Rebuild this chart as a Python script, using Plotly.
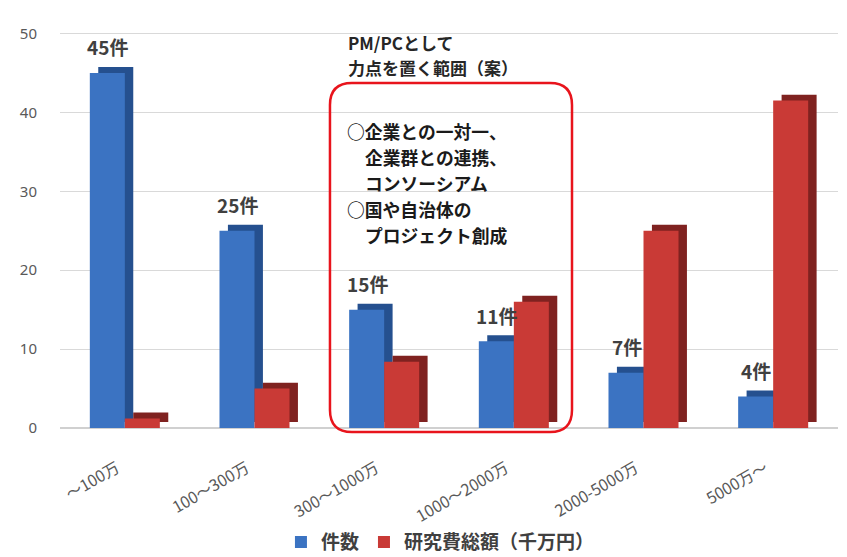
import plotly.graph_objects as go

categories = ["～100万", "100～300万", "300～1000万", "1000～2000万", "2000-5000万", "5000万～"]
counts = [45, 25, 15, 11, 7, 4]
funding = [1.2, 5, 8.4, 16, 25, 41.5]
count_labels = ["45件", "25件", "15件", "11件", "7件", "4件"]
y_ticks = [0, 10, 20, 30, 40, 50]
title_lines = ["PM/PCとして", "力点を置く範囲（案）"]
body_lines = ["○企業との一対一、", "企業群との連携、", "コンソーシアム", "○国や自治体の", "プロジェクト創成"]
body_indent = [False, True, True, False, True]

FONT = "Noto Sans CJK JP"
BLUE = "#3b73c2"
BLUE_SIDE = "#25508f"
RED = "#c93a36"
RED_SIDE = "#7f2220"

W = 0.27        # bar width (category units)
DX = 0.065      # depth shift right
DY = 0.75       # depth shift up (value units)

fig = go.Figure()
fig.add_trace(go.Bar(x=categories, y=counts, base=DY, offset=-W + DX, width=W,
                     marker=dict(color=BLUE_SIDE, line=dict(width=0)),
                     showlegend=False, hoverinfo="skip"))
fig.add_trace(go.Bar(x=categories, y=counts, offset=-W, width=W, name="件数",
                     marker=dict(color=BLUE, line=dict(width=0))))
fig.add_trace(go.Bar(x=categories, y=funding, base=DY, offset=DX, width=W,
                     marker=dict(color=RED_SIDE, line=dict(width=0)),
                     showlegend=False, hoverinfo="skip"))
fig.add_trace(go.Bar(x=categories, y=funding, offset=0, width=W, name="研究費総額（千万円）",
                     marker=dict(color=RED, line=dict(width=0))))

for c, v, t in zip(categories, counts, count_labels):
    fig.add_annotation(x=c, y=v, text=f"<b>{t}</b>", showarrow=False,
                       xshift=-17, yshift=26,
                       font=dict(family=FONT, size=19, color="#404040"))

L, R_, T, B = 60, 9, 13, 129
pw = 847 - L - R_
ph = 557 - T - B


def px2paper(px, py):
    return (px - L) / pw, (557 - B - py) / ph


x0, y0, x1, y1, r = 330, 83, 572, 432, 22
def P(px, py):
    a, b = px2paper(px, py)
    return f"{a:.4f},{b:.4f}"
path = (f"M {P(x0 + r, y0)} L {P(x1 - r, y0)} Q {P(x1, y0)} {P(x1, y0 + r)} "
        f"L {P(x1, y1 - r)} Q {P(x1, y1)} {P(x1 - r, y1)} "
        f"L {P(x0 + r, y1)} Q {P(x0, y1)} {P(x0, y1 - r)} "
        f"L {P(x0, y0 + r)} Q {P(x0, y0)} {P(x0 + r, y0)} Z")
fig.add_shape(type="path", path=path, xref="paper", yref="paper",
              line=dict(color="#e8141c", width=2.5), layer="above")

for i, t in enumerate(title_lines):
    ax, ay = px2paper(346, 42 + 25 * i)
    fig.add_annotation(xref="paper", yref="paper", x=ax, y=ay, xanchor="left", yanchor="middle",
                       showarrow=False, text=f"<b>{t}</b>",
                       font=dict(family=FONT, size=17, color="#262626"))
for i, (t, ind) in enumerate(zip(body_lines, body_indent)):
    ax, ay = px2paper(345 + (18 if ind else 0), 131 + 26 * i)
    fig.add_annotation(xref="paper", yref="paper", x=ax, y=ay, xanchor="left", yanchor="middle",
                       showarrow=False, text=f"<b>{t}</b>",
                       font=dict(family=FONT, size=17.8, color="#1a1a1a"))

fig.update_layout(
    width=847, height=557,
    margin=dict(l=L, r=R_, t=T, b=B, autoexpand=False),
    plot_bgcolor="white", paper_bgcolor="white",
    barmode="overlay",
    font=dict(family=FONT),
    legend=dict(orientation="h", x=0.284, xanchor="left", y=-0.275, yanchor="middle",
                font=dict(family=FONT, size=19, color="#404040", weight="bold"),
                itemwidth=30, traceorder="normal"),
    xaxis=dict(range=[-0.5, 5.5], tickangle=-30, showgrid=False, showline=False,
               ticks="", ticklabelstandoff=27, ticklabelshift=-8, automargin=False,
               tickfont=dict(family=FONT, size=16, color="#595959")),
    yaxis=dict(range=[0, 52.6], tickvals=y_ticks, showgrid=True, gridcolor="#d9d9d9",
               zeroline=True, zerolinecolor="#d0d0d0", showline=False, automargin=False,
               ticks="outside", ticklen=19, tickcolor="rgba(0,0,0,0)",
               tickfont=dict(family="Noto Sans", size=15, color="#595959")),
)

fig.write_html("out.html")
